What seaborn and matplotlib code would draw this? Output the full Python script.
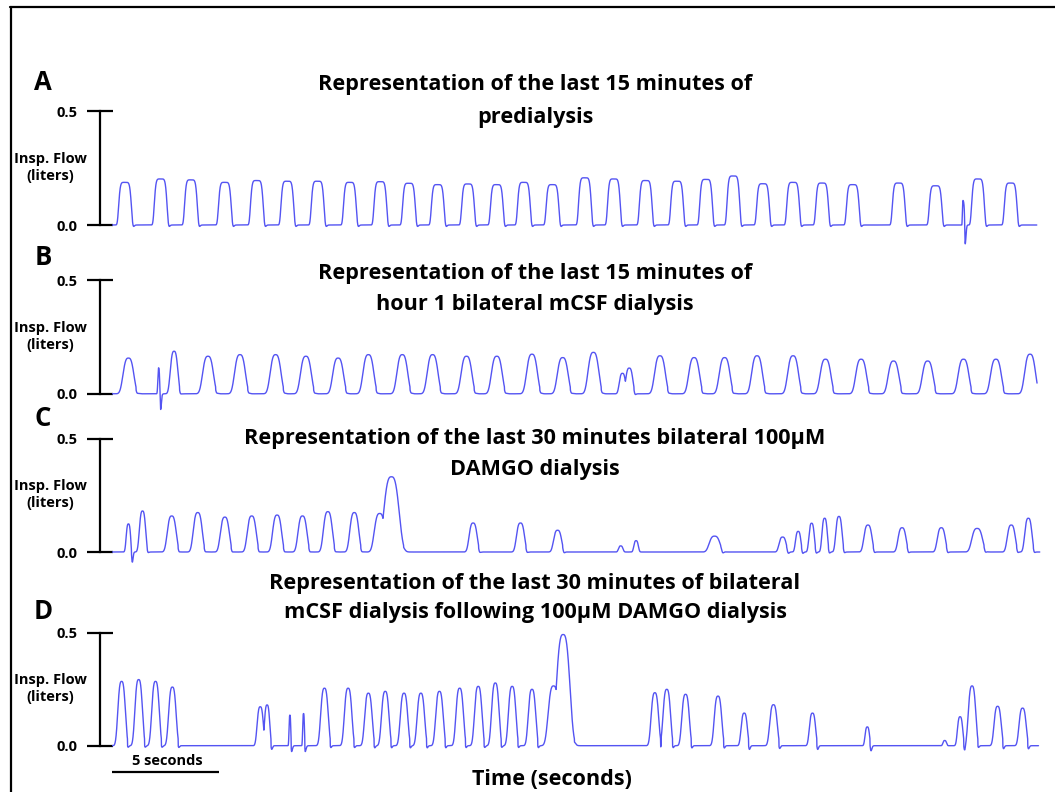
import numpy as np
import matplotlib
matplotlib.use("Agg")
import matplotlib.pyplot as plt
import seaborn as sns
from matplotlib.lines import Line2D

sns.set_theme(style="white")
plt.rcParams['font.family'] = ['Open Sans', 'DejaVu Sans']
plt.rcParams['font.weight'] = 'bold'
plt.rcParams['text.color'] = 'black'

# ---------------- data ----------------
PANEL_LETTERS = ["A", "B", "C", "D"]
TITLES = [
    ["Representation of the last 15 minutes of", "predialysis"],
    ["Representation of the last 15 minutes of", "hour 1 bilateral mCSF dialysis"],
    ["Representation of the last 30 minutes bilateral 100µM", "DAMGO dialysis"],
    ["Representation of the last 30 minutes of bilateral", "mCSF dialysis following 100µM DAMGO dialysis"],
]
Y_TICKS = [0.0, 0.5]
Y_TICK_LABELS = ["0.0", "0.5"]
Y_LABEL = "Insp. Flow\n(liters)"
X_LABEL = "Time (seconds)"
SCALE_BAR_S = 5
SCALE_BAR_LABEL = "5 seconds"
RECORD_END_S = [43.36, 43.37, 43.50, 43.44]

# Panel A: breath centre (s), peak flow (L), width (s); negative = downward artefact
A_T = [0.61, 2.28, 3.70, 5.29, 6.79, 8.22, 9.64, 11.15, 12.58, 13.92, 15.27, 16.69,
       18.04, 19.31, 20.65, 22.17, 23.53, 25.02, 26.49, 27.85, 29.13, 30.52, 31.93,
       33.29, 34.73, 36.88, 38.61, 39.92, 40.00, 40.60, 42.13]
A_AMP = [0.187, 0.202, 0.198, 0.187, 0.195, 0.192, 0.192, 0.187, 0.190, 0.183, 0.177, 0.180,
         0.177, 0.187, 0.177, 0.207, 0.202, 0.195, 0.192, 0.200, 0.215, 0.181, 0.187,
         0.184, 0.177, 0.184, 0.172, 0.109, -0.075, 0.202, 0.184]
A_W = [0.62, 0.62, 0.62, 0.62, 0.62, 0.62, 0.62, 0.62, 0.62, 0.62, 0.62, 0.62,
       0.62, 0.62, 0.62, 0.62, 0.62, 0.62, 0.62, 0.62, 0.62, 0.62, 0.62,
       0.62, 0.62, 0.62, 0.62, 0.12, 0.10, 0.62, 0.62]

# Panel B
B_T = [0.77, 2.20, 2.27, 2.91, 4.50, 6.00, 7.67, 9.09, 10.60, 12.02, 13.61, 15.03, 16.62,
       18.04, 19.69, 21.13, 22.57, 23.93, 24.25, 25.69, 27.29, 28.72, 30.24, 31.93,
       33.45, 35.12, 36.64, 38.24, 39.92, 41.44, 43.04]
B_AMP = [0.157, 0.120, -0.070, 0.187, 0.165, 0.172, 0.172, 0.165, 0.157, 0.172, 0.172, 0.172, 0.165,
         0.165, 0.174, 0.159, 0.182, 0.090, 0.113, 0.167, 0.159, 0.159, 0.167, 0.167,
         0.152, 0.152, 0.144, 0.144, 0.152, 0.152, 0.174]
B_W = [0.60, 0.12, 0.10, 0.42, 0.60, 0.60, 0.60, 0.60, 0.60, 0.60, 0.60, 0.60, 0.60,
       0.60, 0.60, 0.60, 0.60, 0.35, 0.40, 0.60, 0.60, 0.60, 0.60, 0.60,
       0.60, 0.60, 0.60, 0.60, 0.60, 0.60, 0.60]

# Panel C
C_T = [0.77, 0.95, 1.43, 2.80, 4.02, 5.29, 6.55, 7.74, 8.93, 10.12, 11.36, 12.55, 13.10,
       16.93, 19.15, 20.89, 23.85, 24.57, 28.25, 31.44, 32.17, 32.80, 33.41, 34.08,
       35.44, 37.04, 38.88, 40.56, 42.16, 42.96]
C_AMP = [0.124, -0.040, 0.181, 0.159, 0.174, 0.154, 0.159, 0.163, 0.159, 0.178, 0.174, 0.170, 0.332,
         0.128, 0.128, 0.096, 0.027, 0.050, 0.070, 0.066, 0.091, 0.127, 0.149, 0.157,
         0.119, 0.107, 0.107, 0.104, 0.119, 0.149]
C_W = [0.25, 0.10, 0.35, 0.50, 0.50, 0.50, 0.50, 0.50, 0.50, 0.50, 0.50, 0.60, 0.85,
       0.45, 0.45, 0.45, 0.25, 0.25, 0.60, 0.40, 0.30, 0.30, 0.30, 0.35,
       0.45, 0.45, 0.45, 0.60, 0.45, 0.40]

# Panel D
D_T = [0.45, 1.25, 2.04, 2.83, 6.95, 7.27, 8.34, 8.98, 9.96, 11.07, 12.02, 12.81, 13.69,
       14.48, 15.35, 16.30, 17.17, 17.97, 18.76, 19.69, 20.70, 21.15, 25.45, 26.01,
       26.89, 28.41, 29.64, 31.01, 32.84, 35.41, 39.04, 39.76, 40.32, 41.52, 42.69]
D_AMP = [0.284, 0.292, 0.284, 0.259, 0.172, 0.180, 0.135, 0.142, 0.254, 0.254, 0.232, 0.240, 0.232,
         0.232, 0.240, 0.254, 0.262, 0.277, 0.262, 0.249, 0.264, 0.491, 0.234, 0.249,
         0.227, 0.219, 0.144, 0.181, 0.144, 0.083, 0.023, 0.128, 0.264, 0.174, 0.166]
D_W = [0.42, 0.42, 0.42, 0.42, 0.35, 0.30, 0.10, 0.10, 0.42, 0.42, 0.42, 0.42, 0.42,
       0.42, 0.42, 0.42, 0.42, 0.42, 0.42, 0.42, 0.60, 0.75, 0.42, 0.42,
       0.42, 0.42, 0.35, 0.42, 0.35, 0.25, 0.20, 0.30, 0.42, 0.40, 0.40]

PANELS = [(A_T, A_AMP, A_W), (B_T, B_AMP, B_W), (C_T, C_AMP, C_W), (D_T, D_AMP, D_W)]

# ---------------- style / layout ----------------
SHAPE_P = [6, 3, 3, 3]          # flatness of breath top
UNDERSHOOT = [0.008, 0.012, 0.012, 0.03]
TRACE_COLOR = "#5454f2"
W, H = 1055, 792
ZERO_PX = [225.0, 393.8, 552.0, 745.7]
HALF_PX = [111.0, 280.0, 438.7, 632.5]
X0_PX, PX_PER_S = 112.0, 21.33
XMAX = 43.6
YMIN, YMAX = -0.14, 0.56
TITLE_BASE_PX = [(90, 123), (279, 310), (444, 475), (589, 618)]
LETTER_BASE_PX = [90, 265, 426, 619]
TITLE_FS = 15.6
SMALL_FS = 10.5


def build_trace(t, times, amps, widths, p, under):
    y = np.zeros_like(t)
    for c, a, w in zip(times, amps, widths):
        if a > 0:
            y = np.maximum(y, a * np.exp(-np.abs((t - c) / (w / 2)) ** p))
    quiet = (y < 0.03).astype(float)
    for c, a, w in zip(times, amps, widths):
        if a < 0:
            y = y + a * np.exp(-((t - c) / (w / 2)) ** 2)
        elif a > 0.05:
            y = y - quiet * under * np.exp(-((t - (c + 0.62 * w)) / 0.07) ** 2)
    return y


fig = plt.figure(figsize=(W / 100, H / 100), dpi=100)

for i, (times, amps, widths) in enumerate(PANELS):
    scale = (ZERO_PX[i] - HALF_PX[i]) / 0.5
    top = ZERO_PX[i] - YMAX * scale
    bottom = ZERO_PX[i] - YMIN * scale
    ax = fig.add_axes([X0_PX / W, 1 - bottom / H, XMAX * PX_PER_S / W, (bottom - top) / H])
    ax.set_facecolor("none")
    t = np.arange(0, RECORD_END_S[i], 0.004)
    y = build_trace(t, times, amps, widths, SHAPE_P[i], UNDERSHOOT[i])
    sns.lineplot(x=t, y=y, ax=ax, color=TRACE_COLOR, linewidth=1.0,
                 estimator=None, errorbar=None, legend=False)
    ax.set_xlim(0, XMAX)
    ax.set_ylim(YMIN, YMAX)
    for s in ["top", "right", "bottom"]:
        ax.spines[s].set_visible(False)
    sp = ax.spines["left"]
    sp.set_bounds(0, 0.5)
    sp.set_position(("outward", 12.3 * 0.72))
    sp.set_color("black")
    sp.set_linewidth(1.6)
    ax.set_xticks([])
    ax.set_yticks(Y_TICKS)
    ax.set_yticklabels(Y_TICK_LABELS, fontweight="bold")
    ax.tick_params(axis="y", direction="inout", length=19.4, width=1.6,
                   pad=6.0, labelsize=SMALL_FS, colors="black", labelcolor="black", left=True)
    ax.set_xlabel("")
    ax.set_ylabel("")

    # y label
    fig.text(50.7 / W, 1 - (ZERO_PX[i] - 57.5) / H, Y_LABEL, ha="center", va="center",
             fontsize=SMALL_FS, fontweight="bold", linespacing=1.25, color="black")
    # titles
    for line, bpx in zip(TITLES[i], TITLE_BASE_PX[i]):
        fig.text(535 / W, 1 - bpx / H, line, ha="center", va="baseline",
                 fontsize=TITLE_FS, fontweight="bold", color="black")
    fig.text(43 / W, 1 - LETTER_BASE_PX[i] / H, PANEL_LETTERS[i], ha="center",
             va="baseline", fontsize=18.5, fontweight="bold", color="black")

    if i == 3:
        ybar = -26.3 / scale
        ax.plot([0, SCALE_BAR_S], [ybar, ybar], color="black", lw=1.6, clip_on=False,
                solid_capstyle="butt")

fig.text(167 / W, 1 - 761 / H, SCALE_BAR_LABEL, ha="center", va="center",
         fontsize=SMALL_FS, fontweight="bold", color="black")
fig.text(552 / W, 1 - 779.5 / H, X_LABEL, ha="center", va="center",
         fontsize=TITLE_FS, fontweight="bold", color="black")

# partial frame (top and left edges)
fig.add_artist(Line2D([10 / W, 1], [1 - 6.5 / H, 1 - 6.5 / H], transform=fig.transFigure,
                      color="black", lw=1.6))
fig.add_artist(Line2D([11 / W, 11 / W], [0, 1 - 6.5 / H], transform=fig.transFigure,
                      color="black", lw=1.6))

fig.savefig("out.png", dpi=100)
